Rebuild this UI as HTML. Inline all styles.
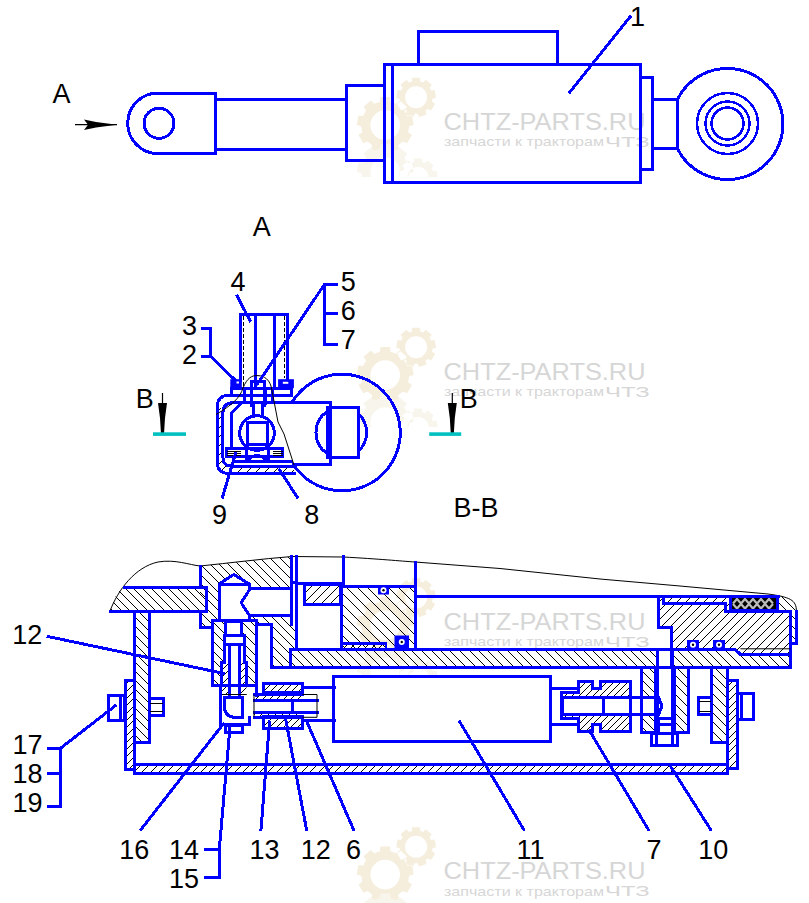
<!DOCTYPE html>
<html><head><meta charset="utf-8">
<style>
html,body{margin:0;padding:0;background:#fff;}
body{width:809px;height:903px;overflow:hidden;position:relative;}
svg{position:absolute;left:0;top:0;}
.b{fill:none;stroke:#0000ff;stroke-width:3;stroke-linejoin:miter;stroke-linecap:square;shape-rendering:crispEdges;}
.b2{shape-rendering:crispEdges;}
.b2{fill:none;stroke:#0000ff;stroke-width:2.5;}
.k{fill:none;stroke:#000;stroke-width:1;}
.t{font-family:"Liberation Sans",sans-serif;font-size:27px;fill:#000;}
.wm{font-family:"Liberation Sans",sans-serif;fill:#d6d6d6;}
</style></head>
<body>
<svg width="809" height="903" viewBox="0 0 809 903">

<!-- WATERMARKS -->
<g id="wm">
<path d="M379.9 101.7 L380.4 97.0 L390.0 97.0 L390.5 101.7 L396.2 103.8 L399.6 100.5 L406.9 106.7 L404.3 110.5 L407.3 115.9 L412.0 115.5 L413.7 125.0 L409.2 126.2 L408.1 132.3 L411.9 135.0 L407.1 143.3 L402.8 141.4 L398.2 145.3 L399.3 149.8 L390.3 153.1 L388.3 148.9 L382.1 148.9 L380.1 153.1 L371.1 149.8 L372.2 145.3 L367.6 141.4 L363.3 143.3 L358.5 135.0 L362.3 132.3 L361.2 126.2 L356.7 125.0 L358.4 115.5 L363.1 115.9 L366.1 110.5 L363.5 106.7 L370.8 100.5 L374.2 103.8 Z M400.0 125.1 A14.8 14.8 0 1 0 370.4 125.1 A14.8 14.8 0 1 0 400.0 125.1 Z M411.9 81.4 L412.1 77.7 L420.1 77.7 L420.3 81.4 L423.1 82.4 L425.7 79.7 L431.7 84.8 L429.6 87.8 L431.1 90.4 L434.7 90.0 L436.1 97.8 L432.5 98.7 L432.0 101.6 L435.1 103.7 L431.1 110.5 L427.8 108.9 L425.5 110.8 L426.5 114.4 L419.1 117.1 L417.6 113.7 L414.6 113.7 L413.1 117.1 L405.7 114.4 L406.7 110.8 L404.4 108.9 L401.1 110.5 L397.1 103.7 L400.2 101.6 L399.7 98.7 L396.1 97.8 L397.5 90.0 L401.1 90.4 L402.6 87.8 L400.5 84.8 L406.5 79.7 L409.1 82.4 Z M427.1 97.3 A11 11 0 1 0 405.1 97.3 A11 11 0 1 0 427.1 97.3 Z" fill="#f6eedd" fill-rule="evenodd"/>
<clipPath id="wmclip112"><rect x="340" y="137.0" width="100" height="40"/></clipPath>
<path d="M379.9 148.6 L380.4 143.9 L390.0 143.9 L390.5 148.6 L396.2 150.7 L399.6 147.4 L406.9 153.6 L404.3 157.4 L407.3 162.8 L412.0 162.4 L413.7 171.9 L409.2 173.1 L408.1 179.2 L411.9 181.9 L407.1 190.2 L402.8 188.3 L398.2 192.2 L399.3 196.7 L390.3 200.0 L388.3 195.8 L382.1 195.8 L380.1 200.0 L371.1 196.7 L372.2 192.2 L367.6 188.3 L363.3 190.2 L358.5 181.9 L362.3 179.2 L361.2 173.1 L356.7 171.9 L358.4 162.4 L363.1 162.8 L366.1 157.4 L363.5 153.6 L370.8 147.4 L374.2 150.7 Z M400.0 172.0 A14.8 14.8 0 1 0 370.4 172.0 A14.8 14.8 0 1 0 400.0 172.0 Z M413.8 162.1 L414.0 158.4 L422.0 158.4 L422.2 162.1 L425.0 163.1 L427.6 160.4 L433.6 165.5 L431.5 168.5 L433.0 171.1 L436.6 170.7 L438.0 178.5 L434.4 179.4 L433.9 182.3 L437.0 184.4 L433.0 191.2 L429.7 189.6 L427.4 191.5 L428.4 195.1 L421.0 197.8 L419.5 194.4 L416.5 194.4 L415.0 197.8 L407.6 195.1 L408.6 191.5 L406.3 189.6 L403.0 191.2 L399.0 184.4 L402.1 182.3 L401.6 179.4 L398.0 178.5 L399.4 170.7 L403.0 171.1 L404.5 168.5 L402.4 165.5 L408.4 160.4 L411.0 163.1 Z M429.0 178.0 A11 11 0 1 0 407.0 178.0 A11 11 0 1 0 429.0 178.0 Z" fill="#f8f5ec" fill-rule="evenodd" clip-path="url(#wmclip112)"/>
<text class="wm" x="443.5" y="129.6" font-size="24" textLength="202" lengthAdjust="spacingAndGlyphs">CHTZ-PARTS.RU</text>
<text class="wm" x="444" y="146.0" font-size="13.5" textLength="160" lengthAdjust="spacingAndGlyphs">запчасти к тракторам</text>
<text class="wm" x="605" y="146.5" font-size="15" textLength="44.6" lengthAdjust="spacingAndGlyphs">ЧТЗ</text>
<path d="M379.9 351.7 L380.4 347.0 L390.0 347.0 L390.5 351.7 L396.2 353.8 L399.6 350.5 L406.9 356.7 L404.3 360.5 L407.3 365.9 L412.0 365.5 L413.7 375.0 L409.2 376.2 L408.1 382.3 L411.9 385.0 L407.1 393.3 L402.8 391.4 L398.2 395.3 L399.3 399.8 L390.3 403.1 L388.3 398.9 L382.1 398.9 L380.1 403.1 L371.1 399.8 L372.2 395.3 L367.6 391.4 L363.3 393.3 L358.5 385.0 L362.3 382.3 L361.2 376.2 L356.7 375.0 L358.4 365.5 L363.1 365.9 L366.1 360.5 L363.5 356.7 L370.8 350.5 L374.2 353.8 Z M400.0 375.1 A14.8 14.8 0 1 0 370.4 375.1 A14.8 14.8 0 1 0 400.0 375.1 Z M411.9 331.4 L412.1 327.7 L420.1 327.7 L420.3 331.4 L423.1 332.4 L425.7 329.7 L431.7 334.8 L429.6 337.8 L431.1 340.4 L434.7 340.0 L436.1 347.8 L432.5 348.7 L432.0 351.6 L435.1 353.7 L431.1 360.5 L427.8 358.9 L425.5 360.8 L426.5 364.4 L419.1 367.1 L417.6 363.7 L414.6 363.7 L413.1 367.1 L405.7 364.4 L406.7 360.8 L404.4 358.9 L401.1 360.5 L397.1 353.7 L400.2 351.6 L399.7 348.7 L396.1 347.8 L397.5 340.0 L401.1 340.4 L402.6 337.8 L400.5 334.8 L406.5 329.7 L409.1 332.4 Z M427.1 347.3 A11 11 0 1 0 405.1 347.3 A11 11 0 1 0 427.1 347.3 Z" fill="#f6eedd" fill-rule="evenodd"/>
<clipPath id="wmclip362"><rect x="340" y="387.0" width="100" height="40"/></clipPath>
<path d="M379.9 398.6 L380.4 393.9 L390.0 393.9 L390.5 398.6 L396.2 400.7 L399.6 397.4 L406.9 403.6 L404.3 407.4 L407.3 412.8 L412.0 412.4 L413.7 421.9 L409.2 423.1 L408.1 429.2 L411.9 431.9 L407.1 440.2 L402.8 438.3 L398.2 442.2 L399.3 446.7 L390.3 450.0 L388.3 445.8 L382.1 445.8 L380.1 450.0 L371.1 446.7 L372.2 442.2 L367.6 438.3 L363.3 440.2 L358.5 431.9 L362.3 429.2 L361.2 423.1 L356.7 421.9 L358.4 412.4 L363.1 412.8 L366.1 407.4 L363.5 403.6 L370.8 397.4 L374.2 400.7 Z M400.0 422.0 A14.8 14.8 0 1 0 370.4 422.0 A14.8 14.8 0 1 0 400.0 422.0 Z M413.8 412.1 L414.0 408.4 L422.0 408.4 L422.2 412.1 L425.0 413.1 L427.6 410.4 L433.6 415.5 L431.5 418.5 L433.0 421.1 L436.6 420.7 L438.0 428.5 L434.4 429.4 L433.9 432.3 L437.0 434.4 L433.0 441.2 L429.7 439.6 L427.4 441.5 L428.4 445.1 L421.0 447.8 L419.5 444.4 L416.5 444.4 L415.0 447.8 L407.6 445.1 L408.6 441.5 L406.3 439.6 L403.0 441.2 L399.0 434.4 L402.1 432.3 L401.6 429.4 L398.0 428.5 L399.4 420.7 L403.0 421.1 L404.5 418.5 L402.4 415.5 L408.4 410.4 L411.0 413.1 Z M429.0 428.0 A11 11 0 1 0 407.0 428.0 A11 11 0 1 0 429.0 428.0 Z" fill="#f8f5ec" fill-rule="evenodd" clip-path="url(#wmclip362)"/>
<text class="wm" x="443.5" y="379.6" font-size="24" textLength="202" lengthAdjust="spacingAndGlyphs">CHTZ-PARTS.RU</text>
<text class="wm" x="444" y="396.0" font-size="13.5" textLength="160" lengthAdjust="spacingAndGlyphs">запчасти к тракторам</text>
<text class="wm" x="605" y="396.5" font-size="15" textLength="44.6" lengthAdjust="spacingAndGlyphs">ЧТЗ</text>
<path d="M379.9 601.9 L380.4 597.2 L390.0 597.2 L390.5 601.9 L396.2 604.0 L399.6 600.7 L406.9 606.9 L404.3 610.7 L407.3 616.1 L412.0 615.7 L413.7 625.2 L409.2 626.4 L408.1 632.5 L411.9 635.2 L407.1 643.5 L402.8 641.6 L398.2 645.5 L399.3 650.0 L390.3 653.3 L388.3 649.1 L382.1 649.1 L380.1 653.3 L371.1 650.0 L372.2 645.5 L367.6 641.6 L363.3 643.5 L358.5 635.2 L362.3 632.5 L361.2 626.4 L356.7 625.2 L358.4 615.7 L363.1 616.1 L366.1 610.7 L363.5 606.9 L370.8 600.7 L374.2 604.0 Z M400.0 625.3 A14.8 14.8 0 1 0 370.4 625.3 A14.8 14.8 0 1 0 400.0 625.3 Z M411.9 581.6 L412.1 577.9 L420.1 577.9 L420.3 581.6 L423.1 582.6 L425.7 579.9 L431.7 585.0 L429.6 588.0 L431.1 590.6 L434.7 590.2 L436.1 598.0 L432.5 598.9 L432.0 601.8 L435.1 603.9 L431.1 610.7 L427.8 609.1 L425.5 611.0 L426.5 614.6 L419.1 617.3 L417.6 613.9 L414.6 613.9 L413.1 617.3 L405.7 614.6 L406.7 611.0 L404.4 609.1 L401.1 610.7 L397.1 603.9 L400.2 601.8 L399.7 598.9 L396.1 598.0 L397.5 590.2 L401.1 590.6 L402.6 588.0 L400.5 585.0 L406.5 579.9 L409.1 582.6 Z M427.1 597.5 A11 11 0 1 0 405.1 597.5 A11 11 0 1 0 427.1 597.5 Z" fill="#f6eedd" fill-rule="evenodd"/>
<clipPath id="wmclip612"><rect x="340" y="637.2" width="100" height="40"/></clipPath>
<path d="M379.9 648.8 L380.4 644.1 L390.0 644.1 L390.5 648.8 L396.2 650.9 L399.6 647.6 L406.9 653.8 L404.3 657.6 L407.3 663.0 L412.0 662.6 L413.7 672.1 L409.2 673.3 L408.1 679.4 L411.9 682.1 L407.1 690.4 L402.8 688.5 L398.2 692.4 L399.3 696.9 L390.3 700.2 L388.3 696.0 L382.1 696.0 L380.1 700.2 L371.1 696.9 L372.2 692.4 L367.6 688.5 L363.3 690.4 L358.5 682.1 L362.3 679.4 L361.2 673.3 L356.7 672.1 L358.4 662.6 L363.1 663.0 L366.1 657.6 L363.5 653.8 L370.8 647.6 L374.2 650.9 Z M400.0 672.2 A14.8 14.8 0 1 0 370.4 672.2 A14.8 14.8 0 1 0 400.0 672.2 Z M413.8 662.3 L414.0 658.6 L422.0 658.6 L422.2 662.3 L425.0 663.3 L427.6 660.6 L433.6 665.7 L431.5 668.7 L433.0 671.3 L436.6 670.9 L438.0 678.7 L434.4 679.6 L433.9 682.5 L437.0 684.6 L433.0 691.4 L429.7 689.8 L427.4 691.7 L428.4 695.3 L421.0 698.0 L419.5 694.6 L416.5 694.6 L415.0 698.0 L407.6 695.3 L408.6 691.7 L406.3 689.8 L403.0 691.4 L399.0 684.6 L402.1 682.5 L401.6 679.6 L398.0 678.7 L399.4 670.9 L403.0 671.3 L404.5 668.7 L402.4 665.7 L408.4 660.6 L411.0 663.3 Z M429.0 678.2 A11 11 0 1 0 407.0 678.2 A11 11 0 1 0 429.0 678.2 Z" fill="#f8f5ec" fill-rule="evenodd" clip-path="url(#wmclip612)"/>
<text class="wm" x="443.5" y="629.8" font-size="24" textLength="202" lengthAdjust="spacingAndGlyphs">CHTZ-PARTS.RU</text>
<text class="wm" x="444" y="646.2" font-size="13.5" textLength="160" lengthAdjust="spacingAndGlyphs">запчасти к тракторам</text>
<text class="wm" x="605" y="646.7" font-size="15" textLength="44.6" lengthAdjust="spacingAndGlyphs">ЧТЗ</text>
<path d="M379.9 851.2 L380.4 846.5 L390.0 846.5 L390.5 851.2 L396.2 853.3 L399.6 850.0 L406.9 856.2 L404.3 860.0 L407.3 865.4 L412.0 865.0 L413.7 874.5 L409.2 875.7 L408.1 881.8 L411.9 884.5 L407.1 892.8 L402.8 890.9 L398.2 894.8 L399.3 899.3 L390.3 902.6 L388.3 898.4 L382.1 898.4 L380.1 902.6 L371.1 899.3 L372.2 894.8 L367.6 890.9 L363.3 892.8 L358.5 884.5 L362.3 881.8 L361.2 875.7 L356.7 874.5 L358.4 865.0 L363.1 865.4 L366.1 860.0 L363.5 856.2 L370.8 850.0 L374.2 853.3 Z M400.0 874.6 A14.8 14.8 0 1 0 370.4 874.6 A14.8 14.8 0 1 0 400.0 874.6 Z M411.9 830.9 L412.1 827.2 L420.1 827.2 L420.3 830.9 L423.1 831.9 L425.7 829.2 L431.7 834.3 L429.6 837.3 L431.1 839.9 L434.7 839.5 L436.1 847.3 L432.5 848.2 L432.0 851.1 L435.1 853.2 L431.1 860.0 L427.8 858.4 L425.5 860.3 L426.5 863.9 L419.1 866.6 L417.6 863.2 L414.6 863.2 L413.1 866.6 L405.7 863.9 L406.7 860.3 L404.4 858.4 L401.1 860.0 L397.1 853.2 L400.2 851.1 L399.7 848.2 L396.1 847.3 L397.5 839.5 L401.1 839.9 L402.6 837.3 L400.5 834.3 L406.5 829.2 L409.1 831.9 Z M427.1 846.8 A11 11 0 1 0 405.1 846.8 A11 11 0 1 0 427.1 846.8 Z" fill="#f6eedd" fill-rule="evenodd"/>
<clipPath id="wmclip861"><rect x="340" y="886.5" width="100" height="40"/></clipPath>
<path d="M379.9 898.1 L380.4 893.4 L390.0 893.4 L390.5 898.1 L396.2 900.2 L399.6 896.9 L406.9 903.1 L404.3 906.9 L407.3 912.3 L412.0 911.9 L413.7 921.4 L409.2 922.6 L408.1 928.7 L411.9 931.4 L407.1 939.7 L402.8 937.8 L398.2 941.7 L399.3 946.2 L390.3 949.5 L388.3 945.3 L382.1 945.3 L380.1 949.5 L371.1 946.2 L372.2 941.7 L367.6 937.8 L363.3 939.7 L358.5 931.4 L362.3 928.7 L361.2 922.6 L356.7 921.4 L358.4 911.9 L363.1 912.3 L366.1 906.9 L363.5 903.1 L370.8 896.9 L374.2 900.2 Z M400.0 921.5 A14.8 14.8 0 1 0 370.4 921.5 A14.8 14.8 0 1 0 400.0 921.5 Z M413.8 911.6 L414.0 907.9 L422.0 907.9 L422.2 911.6 L425.0 912.6 L427.6 909.9 L433.6 915.0 L431.5 918.0 L433.0 920.6 L436.6 920.2 L438.0 928.0 L434.4 928.9 L433.9 931.8 L437.0 933.9 L433.0 940.7 L429.7 939.1 L427.4 941.0 L428.4 944.6 L421.0 947.3 L419.5 943.9 L416.5 943.9 L415.0 947.3 L407.6 944.6 L408.6 941.0 L406.3 939.1 L403.0 940.7 L399.0 933.9 L402.1 931.8 L401.6 928.9 L398.0 928.0 L399.4 920.2 L403.0 920.6 L404.5 918.0 L402.4 915.0 L408.4 909.9 L411.0 912.6 Z M429.0 927.5 A11 11 0 1 0 407.0 927.5 A11 11 0 1 0 429.0 927.5 Z" fill="#f8f5ec" fill-rule="evenodd" clip-path="url(#wmclip861)"/>
<text class="wm" x="443.5" y="879.1" font-size="24" textLength="202" lengthAdjust="spacingAndGlyphs">CHTZ-PARTS.RU</text>
<text class="wm" x="444" y="895.5" font-size="13.5" textLength="160" lengthAdjust="spacingAndGlyphs">запчасти к тракторам</text>
<text class="wm" x="605" y="896.0" font-size="15" textLength="44.6" lengthAdjust="spacingAndGlyphs">ЧТЗ</text>
</g>

<!-- TOP VIEW -->
<g id="top">
 <path class="b" d="M215 93 H158 A30.3 30.3 0 0 0 158 153.6 H215 Z"/>
 <circle class="b" cx="159" cy="123.3" r="15"/>
 <path class="b" d="M215 99 H346 M215 149 H346"/>
 <rect class="b" x="346.4" y="85.8" width="37.8" height="75.1"/>
 <rect class="b" x="384.2" y="64.5" width="256.3" height="118"/>
 <path class="b" d="M392.8 64.5 V182.5"/>
 <path class="b" d="M418 64.5 V31.4 H557.6 V64.5"/>
 <path class="b" d="M640.5 77.5 H652.5 V169.7 H640.5"/>
 <path class="b" d="M652.5 99.4 H677.5 V148.6 H652.5"/>
 <path class="b" d="M677.5 99.4 A55.6 55.6 0 1 1 677.5 148.6"/>
 <circle class="b2" cx="727.5" cy="123.5" r="30.5"/>
 <circle class="b2" cx="727.5" cy="123.5" r="22"/>
 <circle class="b2" cx="727.5" cy="123.5" r="16"/>
 <path class="b" d="M570 92 L630 17"/>
</g>

<!-- VIEW A -->
<g id="viewA">
 <!-- big circle and lug -->
 <path class="b" d="M292.1 402.3 A58.3 58.3 0 1 1 295 467"/>
 <path class="b" d="M293 402.3 H330 V464.5 H293"/>
 <rect class="b" x="327" y="407.8" width="31.6" height="49.5"/>
 <path class="b" d="M327 411.5 A25.5 25.5 0 0 0 327 453.5 M358.6 414 A25.5 25.5 0 0 1 358.6 451"/>
 <!-- hatched housing strips -->
 <clipPath id="c1"><path d="M217.3 405 V465 Q217.3 473.5 227 473.5 H294 V465 H232 Q222.9 465 222.9 458 V410 Z"/></clipPath><path clip-path="url(#c1)" shape-rendering="crispEdges" stroke="#000" stroke-width="1" fill="none" d="M207.5 403.5l-73 73M216.5 403.5l-73 73M225.5 403.5l-73 73M234.5 403.5l-73 73M243.5 403.5l-73 73M252.5 403.5l-73 73M261.5 403.5l-73 73M270.5 403.5l-73 73M279.5 403.5l-73 73M288.5 403.5l-73 73M297.5 403.5l-73 73M306.5 403.5l-73 73M315.5 403.5l-73 73M324.5 403.5l-73 73M333.5 403.5l-73 73M342.5 403.5l-73 73M351.5 403.5l-73 73M360.5 403.5l-73 73M369.5 403.5l-73 73"/>
 <!-- housing outer -->
 <path class="b" d="M243 395.3 H229 Q217.3 395.3 217.3 407 V462 Q217.3 473.5 229 473.5 H294"/>
 <path class="b" d="M243 402.8 H233 Q222.9 402.8 222.9 413 V457 Q222.9 466 231 466 H293"/>
 <path class="b" d="M231.5 446.6 V413 L241 403.5"/>
 <!-- block 4 -->
 <path class="b" d="M240.3 380 V314.5 H287.8 V380"/>
 <path class="b" d="M255.5 314.5 V388 M274.4 314.5 V388"/>
 <path class="k" d="M243.5 316 V388 M284.5 316 V378" stroke-dasharray="4 2" shape-rendering="crispEdges"/>
 <!-- nuts -->
 <rect x="230.3" y="379.2" width="11.5" height="9" fill="#0000ff"/>
 <rect x="236.5" y="381.5" width="2.5" height="2" fill="#fff"/>
 <rect x="278.1" y="379.2" width="15.8" height="9" fill="#0000ff"/>
 <rect x="282.8" y="381.8" width="5.5" height="2" fill="#fff"/>
 <!-- plate -->
 <rect class="b" x="231.8" y="388.8" width="60" height="7"/>
 <path class="b" d="M244 388.8 V402.8 M251 388.8 V403 M265 388.8 V403 M272 388.8 V402.8"/>
 <path class="b" d="M243 402.8 H294"/>
 <!-- bolt -->
 <path class="b" d="M251 381 H264 V405 M251 381 V405"/>
 <path class="b" d="M253 405 V416 M262 405 V416"/>
 <path d="M255 381 L257.5 386 L260 381 Z" fill="#0000ff"/>
 <!-- ball -->
 <circle class="b" cx="257" cy="433" r="17.3"/>
 <rect class="b" x="247.6" y="422" width="19.8" height="22"/>
 <!-- bottom plate -->
 <rect class="b" x="226.3" y="448" width="56" height="8.5"/>
 <path d="M227 451.5 H241 M227 453.5 H241 M227 455.5 H241 M273 451.5 H283 M273 453.5 H283 M273 455.5 H283" stroke="#000" stroke-width="1" shape-rendering="crispEdges"/>
 <path class="b" d="M246 448 V461.6 M268 448 V461.6 M249 459 Q257 452 265 459 M234.7 461.6 H291.5"/>
 <!-- break line -->
 <path class="k" d="M216 414.5 C232 405 240 398 243 388 C247 378 252 375 258 375.6 C265 376 269 380 271 386 L273 396 L278 422 L284 434 L294 465"/>
 <!-- B markers -->
 <path d="M162.5 393 V434" stroke="#000" stroke-width="1.2"/>
 <path d="M158 403 L167 403 L165 418 L164 434 L161 434 L160 418 Z" fill="#000"/>
 <rect x="153" y="432.3" width="33" height="3.6" fill="#00c0c0"/>
 <path d="M452.3 393 V434" stroke="#000" stroke-width="1.2"/>
 <path d="M447.8 403 L456.8 403 L454.8 418 L453.8 434 L450.8 434 L449.8 418 Z" fill="#000"/>
 <rect x="429.2" y="432.3" width="32" height="3.6" fill="#00c0c0"/>
 <!-- leaders -->
 <path class="b" d="M202.7 328.4 H210.5 V356.3 H202.7 M210.5 356.3 L235 380"/>
 <path class="b" d="M250 320.6 L237.2 296.2"/>
 <path class="b" d="M336.4 284.4 H324.5 V344.7 H336.4 M324.5 313.8 H336.4 M324.5 284.4 L258 383"/>
 <path class="b" d="M222.5 497.2 L235.5 453.5 M297.2 497.2 L279.6 469.9"/>
</g>

<!-- SECTION B-B -->
<g id="bb">
 <!-- hatch fills -->
 <clipPath id="c2"><path d="M110 611 C112.5 604 115 597 118 592 L123 587 H206.6 V611 Z"/></clipPath><path clip-path="url(#c2)" shape-rendering="crispEdges" stroke="#000" stroke-width="1" fill="none" d="M78.5 585.5l28 28M87.5 585.5l28 28M96.5 585.5l28 28M104.5 585.5l28 28M113.5 585.5l28 28M122.5 585.5l28 28M130.5 585.5l28 28M139.5 585.5l28 28M148.5 585.5l28 28M157.5 585.5l28 28M165.5 585.5l28 28M174.5 585.5l28 28M183.5 585.5l28 28M191.5 585.5l28 28M200.5 585.5l28 28M209.5 585.5l28 28"/>
 <clipPath id="c3"><path d="M200 566 C230 563 260 559 291.5 556.5 V624.5 H296.5 V649 H290.6 V667.7 H271.3 V624.5 H256 V620 H212.2 V627 H200 Z"/></clipPath><path clip-path="url(#c3)" shape-rendering="crispEdges" stroke="#000" stroke-width="1" fill="none" d="M76.5 554.5l116 116M86.5 554.5l116 116M95.5 554.5l116 116M104.5 554.5l116 116M114.5 554.5l116 116M124.5 554.5l116 116M133.5 554.5l116 116M142.5 554.5l116 116M152.5 554.5l116 116M162.5 554.5l116 116M171.5 554.5l116 116M180.5 554.5l116 116M190.5 554.5l116 116M200.5 554.5l116 116M209.5 554.5l116 116M218.5 554.5l116 116M228.5 554.5l116 116M238.5 554.5l116 116M247.5 554.5l116 116M256.5 554.5l116 116M266.5 554.5l116 116M276.5 554.5l116 116M285.5 554.5l116 116M294.5 554.5l116 116"/>
 <path d="M219 620 V584 L233.8 574.5 L249.3 584 V588.6 H291.5 V615.5 H249.3 V620 Z" fill="#fff"/>
 <clipPath id="c4"><path d="M212.2 620.0 H256.0 V685.7 H212.2 Z"/></clipPath><path clip-path="url(#c4)" shape-rendering="crispEdges" stroke="#000" stroke-width="1" fill="none" d="M133.5 618.5l70 70M142.5 618.5l70 70M152.5 618.5l70 70M162.5 618.5l70 70M171.5 618.5l70 70M180.5 618.5l70 70M190.5 618.5l70 70M200.5 618.5l70 70M209.5 618.5l70 70M218.5 618.5l70 70M228.5 618.5l70 70M238.5 618.5l70 70M247.5 618.5l70 70M256.5 618.5l70 70"/>
 <path d="M225.7 621 H241 V635 H244.4 V662 H246.5 V695 H221.6 V662 H224.4 V635 H225.7 Z" fill="#fff"/>
 <clipPath id="c5"><path d="M221.6 662 H229.2 V695 H221.6 Z M239.6 662 H246.5 V695 H239.6 Z"/></clipPath><path clip-path="url(#c5)" shape-rendering="crispEdges" stroke="#000" stroke-width="1" fill="none" d="M217.5 660.5l-37 37M224.5 660.5l-37 37M231.5 660.5l-37 37M238.5 660.5l-37 37M245.5 660.5l-37 37M252.5 660.5l-37 37M259.5 660.5l-37 37M266.5 660.5l-37 37M273.5 660.5l-37 37M280.5 660.5l-37 37"/>
 <clipPath id="c6"><path d="M304.5 584.0 H340.4 V604.6 H304.5 Z"/></clipPath><path clip-path="url(#c6)" shape-rendering="crispEdges" stroke="#000" stroke-width="1" fill="none" d="M297.5 582.5l-25 25M306.5 582.5l-25 25M315.5 582.5l-25 25M324.5 582.5l-25 25M333.5 582.5l-25 25M342.5 582.5l-25 25M351.5 582.5l-25 25M360.5 582.5l-25 25"/>
 <clipPath id="c7"><path d="M341.0 586.6 H415.2 V648.6 H341.0 Z"/></clipPath><path clip-path="url(#c7)" shape-rendering="crispEdges" stroke="#000" stroke-width="1" fill="none" d="M270.5 584.5l67 67M281.5 584.5l67 67M291.5 584.5l67 67M302.5 584.5l67 67M312.5 584.5l67 67M322.5 584.5l67 67M333.5 584.5l67 67M343.5 584.5l67 67M354.5 584.5l67 67M364.5 584.5l67 67M374.5 584.5l67 67M385.5 584.5l67 67M395.5 584.5l67 67M406.5 584.5l67 67M416.5 584.5l67 67"/>
 <clipPath id="c8"><path d="M290.6 649.0 H657.7 V667.7 H290.6 Z"/></clipPath><path clip-path="url(#c8)" shape-rendering="crispEdges" stroke="#000" stroke-width="1" fill="none" d="M256.5 647.5l23 23M266.5 647.5l23 23M276.5 647.5l23 23M285.5 647.5l23 23M294.5 647.5l23 23M304.5 647.5l23 23M314.5 647.5l23 23M323.5 647.5l23 23M332.5 647.5l23 23M342.5 647.5l23 23M352.5 647.5l23 23M361.5 647.5l23 23M370.5 647.5l23 23M380.5 647.5l23 23M390.5 647.5l23 23M399.5 647.5l23 23M408.5 647.5l23 23M418.5 647.5l23 23M428.5 647.5l23 23M437.5 647.5l23 23M446.5 647.5l23 23M456.5 647.5l23 23M466.5 647.5l23 23M475.5 647.5l23 23M484.5 647.5l23 23M494.5 647.5l23 23M504.5 647.5l23 23M513.5 647.5l23 23M522.5 647.5l23 23M532.5 647.5l23 23M542.5 647.5l23 23M551.5 647.5l23 23M560.5 647.5l23 23M570.5 647.5l23 23M580.5 647.5l23 23M589.5 647.5l23 23M598.5 647.5l23 23M608.5 647.5l23 23M618.5 647.5l23 23M627.5 647.5l23 23M636.5 647.5l23 23M646.5 647.5l23 23M656.5 647.5l23 23"/>
 <clipPath id="c9"><path d="M672.4 649.0 H734.5 L740.4 654.3 H790.6 V667.7 H672.4 Z"/></clipPath><path clip-path="url(#c9)" shape-rendering="crispEdges" stroke="#000" stroke-width="1" fill="none" d="M646.5 647.5l23 23M656.5 647.5l23 23M665.5 647.5l23 23M674.5 647.5l23 23M684.5 647.5l23 23M694.5 647.5l23 23M703.5 647.5l23 23M712.5 647.5l23 23M722.5 647.5l23 23M732.5 647.5l23 23M741.5 647.5l23 23M750.5 647.5l23 23M760.5 647.5l23 23M770.5 647.5l23 23M779.5 647.5l23 23M788.5 647.5l23 23"/>
 <clipPath id="c10"><path d="M658.8 596.1 H778.7 V611.4 H790.5 V654.3 H740.4 L734.5 648.8 H671.6 V627.2 H658.8 Z"/></clipPath><path clip-path="url(#c10)" shape-rendering="crispEdges" stroke="#000" stroke-width="1" fill="none" d="M648.5 594.5l-63 63M657.5 594.5l-63 63M666.5 594.5l-63 63M675.5 594.5l-63 63M684.5 594.5l-63 63M693.5 594.5l-63 63M702.5 594.5l-63 63M711.5 594.5l-63 63M720.5 594.5l-63 63M729.5 594.5l-63 63M738.5 594.5l-63 63M747.5 594.5l-63 63M756.5 594.5l-63 63M765.5 594.5l-63 63M774.5 594.5l-63 63M783.5 594.5l-63 63M792.5 594.5l-63 63M801.5 594.5l-63 63M810.5 594.5l-63 63M819.5 594.5l-63 63M828.5 594.5l-63 63M837.5 594.5l-63 63M846.5 594.5l-63 63M855.5 594.5l-63 63"/>
 <clipPath id="c11"><path d="M778.7 596.1 C790 597 796.4 600 796.4 611.4 V643.9 H790.5 V611.4 H778.7 Z"/></clipPath><path clip-path="url(#c11)" shape-rendering="crispEdges" stroke="#000" stroke-width="1" fill="none" d="M722.5 594.5l52 52M732.5 594.5l52 52M741.5 594.5l52 52M750.5 594.5l52 52M760.5 594.5l52 52M770.5 594.5l52 52M779.5 594.5l52 52M788.5 594.5l52 52M798.5 594.5l52 52"/>
 <rect x="730.6" y="596.7" width="47.2" height="14" fill="#000"/>
 <path d="M733 603.5 L737 599 L741 603.5 L745 599 L749 603.5 L753 599 L757 603.5 L761 599 L765 603.5 L769 599 L773 603.5 M733 604 L737 608.5 L741 604 L745 608.5 L749 604 L753 608.5 L757 604 L761 608.5 L765 604 L769 608.5 L773 604" stroke="#bbb" stroke-width="2.2" fill="none"/>
 <rect class="b" x="730.6" y="596.7" width="47.2" height="14"/>
 <clipPath id="c12"><path d="M134.0 611.0 H149.5 V742.5 H134.0 Z"/></clipPath><path clip-path="url(#c12)" shape-rendering="crispEdges" stroke="#000" stroke-width="1" fill="none" d="M-8.5 609.5l136 136M0.5 609.5l136 136M9.5 609.5l136 136M18.5 609.5l136 136M27.5 609.5l136 136M36.5 609.5l136 136M46.5 609.5l136 136M55.5 609.5l136 136M64.5 609.5l136 136M73.5 609.5l136 136M82.5 609.5l136 136M91.5 609.5l136 136M100.5 609.5l136 136M109.5 609.5l136 136M118.5 609.5l136 136M127.5 609.5l136 136M136.5 609.5l136 136M146.5 609.5l136 136"/>
 <clipPath id="c13"><path d="M125.3 680.0 H134.7 V769.7 H125.3 Z"/></clipPath><path clip-path="url(#c13)" shape-rendering="crispEdges" stroke="#000" stroke-width="1" fill="none" d="M117.5 678.5l-94 94M124.5 678.5l-94 94M131.5 678.5l-94 94M139.5 678.5l-94 94M146.5 678.5l-94 94M153.5 678.5l-94 94M161.5 678.5l-94 94M168.5 678.5l-94 94M175.5 678.5l-94 94M183.5 678.5l-94 94M190.5 678.5l-94 94M197.5 678.5l-94 94M204.5 678.5l-94 94M212.5 678.5l-94 94M219.5 678.5l-94 94M226.5 678.5l-94 94"/>
 <clipPath id="c14"><path d="M134.7 764.3 H727.0 V773.2 H134.7 Z"/></clipPath><path clip-path="url(#c14)" shape-rendering="crispEdges" stroke="#000" stroke-width="1" fill="none" d="M126.5 762.5l-14 14M134.5 762.5l-14 14M143.5 762.5l-14 14M151.5 762.5l-14 14M160.5 762.5l-14 14M168.5 762.5l-14 14M176.5 762.5l-14 14M185.5 762.5l-14 14M193.5 762.5l-14 14M202.5 762.5l-14 14M210.5 762.5l-14 14M218.5 762.5l-14 14M227.5 762.5l-14 14M235.5 762.5l-14 14M244.5 762.5l-14 14M252.5 762.5l-14 14M260.5 762.5l-14 14M269.5 762.5l-14 14M277.5 762.5l-14 14M286.5 762.5l-14 14M294.5 762.5l-14 14M302.5 762.5l-14 14M311.5 762.5l-14 14M319.5 762.5l-14 14M328.5 762.5l-14 14M336.5 762.5l-14 14M344.5 762.5l-14 14M353.5 762.5l-14 14M361.5 762.5l-14 14M370.5 762.5l-14 14M378.5 762.5l-14 14M386.5 762.5l-14 14M395.5 762.5l-14 14M403.5 762.5l-14 14M412.5 762.5l-14 14M420.5 762.5l-14 14M428.5 762.5l-14 14M437.5 762.5l-14 14M445.5 762.5l-14 14M454.5 762.5l-14 14M462.5 762.5l-14 14M470.5 762.5l-14 14M479.5 762.5l-14 14M487.5 762.5l-14 14M496.5 762.5l-14 14M504.5 762.5l-14 14M512.5 762.5l-14 14M521.5 762.5l-14 14M529.5 762.5l-14 14M538.5 762.5l-14 14M546.5 762.5l-14 14M554.5 762.5l-14 14M563.5 762.5l-14 14M571.5 762.5l-14 14M580.5 762.5l-14 14M588.5 762.5l-14 14M596.5 762.5l-14 14M605.5 762.5l-14 14M613.5 762.5l-14 14M622.5 762.5l-14 14M630.5 762.5l-14 14M638.5 762.5l-14 14M647.5 762.5l-14 14M655.5 762.5l-14 14M664.5 762.5l-14 14M672.5 762.5l-14 14M680.5 762.5l-14 14M689.5 762.5l-14 14M697.5 762.5l-14 14M706.5 762.5l-14 14M714.5 762.5l-14 14M722.5 762.5l-14 14M731.5 762.5l-14 14M739.5 762.5l-14 14"/>
 <clipPath id="c15"><path d="M641.2 667.3 H655.6 V732.3 H641.2 Z"/></clipPath><path clip-path="url(#c15)" shape-rendering="crispEdges" stroke="#000" stroke-width="1" fill="none" d="M560.5 665.5l70 70M570.5 665.5l70 70M580.5 665.5l70 70M589.5 665.5l70 70M598.5 665.5l70 70M608.5 665.5l70 70M618.5 665.5l70 70M627.5 665.5l70 70M636.5 665.5l70 70M646.5 665.5l70 70M656.5 665.5l70 70"/>
 <clipPath id="c16"><path d="M674.1 667.3 H688.8 V732.3 H674.1 Z"/></clipPath><path clip-path="url(#c16)" shape-rendering="crispEdges" stroke="#000" stroke-width="1" fill="none" d="M598.5 665.5l70 70M608.5 665.5l70 70M618.5 665.5l70 70M627.5 665.5l70 70M636.5 665.5l70 70M646.5 665.5l70 70M656.5 665.5l70 70M665.5 665.5l70 70M674.5 665.5l70 70M684.5 665.5l70 70"/>
 <clipPath id="c17"><path d="M711.3 667.3 H727.2 V742.4 H711.3 Z"/></clipPath><path clip-path="url(#c17)" shape-rendering="crispEdges" stroke="#000" stroke-width="1" fill="none" d="M627.5 665.5l80 80M636.5 665.5l80 80M646.5 665.5l80 80M656.5 665.5l80 80M665.5 665.5l80 80M674.5 665.5l80 80M684.5 665.5l80 80M694.5 665.5l80 80M703.5 665.5l80 80M712.5 665.5l80 80M722.5 665.5l80 80"/>
 <clipPath id="c18"><path d="M727.2 680.6 H737.8 V768.3 H727.2 Z"/></clipPath><path clip-path="url(#c18)" shape-rendering="crispEdges" stroke="#000" stroke-width="1" fill="none" d="M720.5 678.5l-93 93M728.5 678.5l-93 93M735.5 678.5l-93 93M742.5 678.5l-93 93M750.5 678.5l-93 93M758.5 678.5l-93 93M765.5 678.5l-93 93M772.5 678.5l-93 93M780.5 678.5l-93 93M788.5 678.5l-93 93M795.5 678.5l-93 93M802.5 678.5l-93 93M810.5 678.5l-93 93M818.5 678.5l-93 93M825.5 678.5l-93 93M832.5 678.5l-93 93"/>
 <clipPath id="c19"><path d="M263.9 683.9 H302.3 V692.8 H263.9 Z M263.9 716.2 H302.3 V728.4 H263.9 Z M254 694.5 H302.3 V700.4 H254 Z M254 712.3 H302.3 V717.3 H254 Z"/></clipPath><path clip-path="url(#c19)" shape-rendering="crispEdges" stroke="#000" stroke-width="1" fill="none" d="M252.5 681.5l-50 50M259.5 681.5l-50 50M266.5 681.5l-50 50M273.5 681.5l-50 50M280.5 681.5l-50 50M287.5 681.5l-50 50M294.5 681.5l-50 50M301.5 681.5l-50 50M308.5 681.5l-50 50M315.5 681.5l-50 50M322.5 681.5l-50 50M329.5 681.5l-50 50M336.5 681.5l-50 50M343.5 681.5l-50 50M350.5 681.5l-50 50"/>
 <clipPath id="c20"><path d="M561.8 692.5 H578.6 V681.6 H592.4 V688 H600.3 V681.6 H630 V731 H600.3 V724 H592.4 V731 H578.6 V718.2 H561.8 Z"/></clipPath><path clip-path="url(#c20)" shape-rendering="crispEdges" stroke="#000" stroke-width="1" fill="none" d="M553.5 679.5l-54 54M560.5 679.5l-54 54M567.5 679.5l-54 54M574.5 679.5l-54 54M581.5 679.5l-54 54M588.5 679.5l-54 54M595.5 679.5l-54 54M602.5 679.5l-54 54M609.5 679.5l-54 54M616.5 679.5l-54 54M623.5 679.5l-54 54M630.5 679.5l-54 54M637.5 679.5l-54 54M644.5 679.5l-54 54M651.5 679.5l-54 54M658.5 679.5l-54 54M665.5 679.5l-54 54M672.5 679.5l-54 54M679.5 679.5l-54 54M686.5 679.5l-54 54"/>
 <rect x="562" y="697.5" width="96.7" height="16.8" fill="#fff"/>
 <!-- break line -->
 <path class="k" d="M110 611 C118 590 135 567 158 562 C175 559 190 565 200 566 C230 563 260 559 292 556.5 L343 557 C380 559 400 561 415 562 L500 568.5 L600 579 L680 586 L768 594 C790 597 796.4 600 796.4 611"/>
 <!-- blue outlines top -->
 <path class="b" d="M124 587 H206.6 V611 H110"/>
 <path class="b" d="M200 566 V587 M200 611 V627 H212.2"/>
 <path class="b" d="M219 620 V584 L233.8 574.5 L249.3 584 V590 L241.2 602.7 L249.3 615.3 V620 M219 584 H249.3"/>
 <path class="b" d="M249.3 588.6 H291.5 M249.3 615.5 H291.5"/>
 <path class="b" d="M291.5 556 V624.5 M296.5 556 V648.5 M291.5 582 H296.5"/>
 <path class="b" d="M212.2 620 H256 V685.7 H212.2 Z M256 624.5 H271.3 V667.7 H290.6"/>
 <rect class="b" x="225.7" y="621" width="15.3" height="14"/>
 <rect class="b" x="224.4" y="635" width="20" height="9"/>
 <path class="b" d="M229.2 644 V695 M239.6 644 V695 M224.4 644 V662 H221.6 V685.5 M244.4 644 V662 H246.5 V685.5"/>
 <path class="k" d="M221.6 694.5 H246.5"/>
 <rect class="b" x="304.5" y="584" width="35.9" height="20.6"/>
 <path class="b" d="M296.5 583.5 H343 M343 556 V586.6"/>
 <path class="b" d="M341 586.6 H415.2 M341 586.6 V648.5"/>
 <path class="b" d="M415.2 562 V649 M415.2 596.1 H658.8 V627.2 H671.6 V667.7"/>
 <path class="b" d="M290.6 649 H734.5 L740.4 654.3 H790.5 M290.6 649 V667.7 H790.5 V611.4"/>
 <path class="b" d="M658.8 596.1 H778.7 M663.8 596.1 V603.6 H725.7 V611.4 H790.5 M796.4 611.4 V643.9 H790.5 M730.6 610.5 V596.7"/>
 <path class="k" d="M740.4 648.8 H790.5"/>
 <rect x="378" y="586" width="11" height="8.5" fill="#0000ff"/><circle cx="383.5" cy="590.25" r="3" fill="#fff"/><circle cx="383.5" cy="590.25" r="1.2" fill="#000"/>
 <rect x="394.5" y="635.5" width="14.5" height="13" fill="#0000ff"/><circle cx="401.75" cy="642.0" r="3" fill="#fff"/><circle cx="401.75" cy="642.0" r="1.2" fill="#000"/>
 <rect x="687" y="640" width="12" height="9.5" fill="#0000ff"/><circle cx="693.0" cy="644.75" r="3" fill="#fff"/><circle cx="693.0" cy="644.75" r="1.2" fill="#000"/>
 <rect x="713" y="640" width="12" height="9.5" fill="#0000ff"/><circle cx="719.0" cy="644.75" r="3" fill="#fff"/><circle cx="719.0" cy="644.75" r="1.2" fill="#000"/>
 <clipPath id="c21"><path d="M342 643.5 H385 V648 H342 Z"/></clipPath><path clip-path="url(#c21)" shape-rendering="crispEdges" stroke="#000" stroke-width="1" fill="none" d="M336.5 641.5l-9 9M343.5 641.5l-9 9M350.5 641.5l-9 9M357.5 641.5l-9 9M364.5 641.5l-9 9M371.5 641.5l-9 9M378.5 641.5l-9 9M385.5 641.5l-9 9M392.5 641.5l-9 9"/>
 <path class="b2" d="M342 643.3 H386 V648" stroke-width="2"/>
 <!-- blue outlines lower -->
 <path class="b" d="M134 611 V742.5 H149.5 V611"/>
 <path class="b" d="M125.3 680.4 H134.6 M125.3 680.4 V769.3 H134.6 M134.6 680.4 V773.6"/>
 <path class="b" d="M134.7 764.3 H727 M134.7 773.2 H727"/>
 <rect class="b" x="108.8" y="695.2" width="15.9" height="24.8"/>
 <path class="b" d="M120.6 695.2 V720"/>
 <rect class="b" x="149.5" y="698.9" width="14.2" height="16.1"/>
 <path class="k" d="M150 703.5 H163 M150 711.5 H163" shape-rendering="crispEdges"/>
 <path class="b" d="M220.2 685 V724.3 H249.3 V717.8 M256 685.7 V695"/>
 <path class="b" d="M224.4 697.3 H242.4 V717.4 H236 Q224.4 717.4 224.4 706 Z"/>
 <rect class="b" x="225.7" y="725" width="16.8" height="7.6"/>
 <path class="b" d="M263.9 694.5 V683.9 H302.3 V694.5 M263.9 717.3 V728.4 H302.3 V717.3 M263.9 692.8 H302.3 M263.9 716.2 H302.3"/>
 <path class="b" d="M254 694.5 H302.3 M254 717.3 H302.3 M254 700.4 H317 M254 712.3 H317 M292.3 700.4 V712.3"/>
 <path class="k" d="M254 694.5 V717.3 M317 694.5 V717.3 M302.3 694.5 H317 M302.3 717.3 H317"/>
 <path class="b" d="M302.3 687.8 H334 M302.3 720 H334"/>
 <rect class="b" x="333.5" y="676.5" width="217" height="64.5"/>
 <path class="b" d="M550.5 688.6 H578.6 M550.5 724.2 H578.6"/>
 <path class="b" d="M561.8 692.5 H578.6 V681.6 H592.4 V688 H600.3 V681.6 H630 V731 H600.3 V724 H592.4 V731 H578.6 V718.2 H561.8 Z"/>
 <path class="b" d="M562 697.5 H658.7 L662 706 L658.7 714.3 H562 Z M603 697.5 V714.3"/>
 <path class="b" d="M641.2 667.3 V732.3 H655.6 V667.3 M674.1 667.3 V732.3 H688.8 V667.3"/>
 <path class="b" d="M657.7 649 V718 M672.4 649 V718"/>
 <rect class="b" x="658.7" y="718" width="13.8" height="15"/>
 <path class="b" d="M658.7 724 H672.5"/>
 <rect class="b" x="651.6" y="733.5" width="26" height="12.2"/>
 <path class="b" d="M656.8 733.5 V745.7 M672.4 733.5 V745.7"/>
 <path class="b" d="M711.3 667.3 V742.4 H727.2"/>
 <path class="b" d="M727.2 680.6 H737.8 V768.3 H727.2 M727.2 667.3 V773"/>
 <rect class="b" x="698.6" y="697.9" width="12.7" height="16.6"/>
 <path class="k" d="M699 701.5 H711 M699 711.2 H711" shape-rendering="crispEdges"/>
 <rect class="b" x="737.8" y="693.9" width="15.3" height="25.2"/>
 <path class="b" d="M741.5 695 V718"/>
 <!-- leaders -->
 <path class="b" d="M48.2 636.6 L223.3 673.3"/>
 <path class="b" d="M48.4 748.4 H60.3 V806.6 H48.4 M48.4 773.6 H60.3 M60.3 748.4 L115 706"/>
 <path class="b" d="M141 829.5 L223.5 723.7"/>
 <path class="b" d="M205.8 849.1 H219.3 V877.4 H205.8 M219.3 849.1 L230 727"/>
 <path class="b" d="M261 829.5 L269.5 722 M306.5 829.5 L285.8 719.8 M353.5 829.5 L306.5 720.8"/>
 <path class="b" d="M523.7 829.5 L459.7 721.7 M648.3 829.5 L589.6 730.8 M710.6 829.5 L670.5 766.2"/>
 <!-- top-left arrow A -->
 <path d="M75 124.7 H117" stroke="#000" stroke-width="1.2"/>
 <path d="M84 119.5 L96 122 L117 124.7 L96 127.5 L84 130 L88 124.7 Z" fill="#000"/>
</g>

<!-- LABELS -->
<g id="labels">
<text class="t" x="630.0" y="26.4">1</text>
<text class="t" x="52.5" y="102.9">A</text>
<text class="t" x="252.7" y="235.9">A</text>
<text class="t" x="230.4" y="291.0">4</text>
<text class="t" x="340.7" y="291.0">5</text>
<text class="t" x="340.7" y="320.4">6</text>
<text class="t" x="340.7" y="349.2">7</text>
<text class="t" x="181.9" y="335.2">3</text>
<text class="t" x="181.9" y="364.2">2</text>
<text class="t" x="135.8" y="408.0">B</text>
<text class="t" x="459.7" y="408.3">B</text>
<text class="t" x="211.9" y="524.3">9</text>
<text class="t" x="304.3" y="524.3">8</text>
<text class="t" x="453.5" y="516.7">B-B</text>
<text class="t" x="12.3" y="643.6">12</text>
<text class="t" x="12.5" y="754.0">17</text>
<text class="t" x="12.5" y="783.0">18</text>
<text class="t" x="12.5" y="811.8">19</text>
<text class="t" x="119.2" y="859.4">16</text>
<text class="t" x="169.0" y="859.4">14</text>
<text class="t" x="169.0" y="888.3">15</text>
<text class="t" x="249.4" y="859.4">13</text>
<text class="t" x="300.8" y="859.4">12</text>
<text class="t" x="346.1" y="859.4">6</text>
<text class="t" x="516.4" y="858.8">11</text>
<text class="t" x="646.4" y="858.8">7</text>
<text class="t" x="698.2" y="858.8">10</text>
</g>
</svg>
</body></html>
